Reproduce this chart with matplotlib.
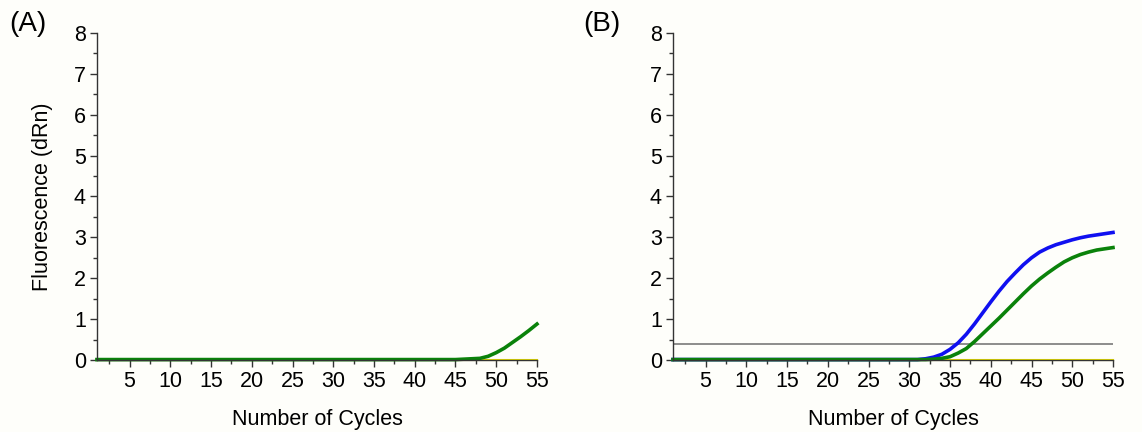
import matplotlib
matplotlib.use("Agg")
import matplotlib.pyplot as plt
from matplotlib.ticker import MultipleLocator

plt.rcParams["font.family"] = ["Liberation Sans", "DejaVu Sans"]

BG = "#fefefa"
AXIS_COLOR = "#333333"

cycles = list(range(1, 56))

# Panel A: only a late green rise, other channels flat
a_green = [0.01] * 45 + [0.02, 0.03, 0.04, 0.09, 0.18, 0.29, 0.43, 0.57, 0.72, 0.88]
a_yellow = [0.005] * 55

# Panel B: blue and green amplification curves
b_blue = [0.01] * 31 + [0.03, 0.07, 0.14, 0.26, 0.42, 0.63, 0.88, 1.15, 1.42, 1.68,
                        1.92, 2.13, 2.33, 2.50, 2.64, 2.74, 2.82, 2.88, 2.94, 2.99,
                        3.03, 3.06, 3.09, 3.12]
b_green = [0.01] * 32 + [0.02, 0.04, 0.08, 0.17, 0.28, 0.45, 0.64, 0.83, 1.02, 1.22,
                         1.42, 1.62, 1.81, 1.98, 2.13, 2.27, 2.40, 2.50, 2.58, 2.64,
                         2.69, 2.72, 2.75]
b_yellow = [0.005] * 55
threshold = 0.4

x_ticks = [5, 10, 15, 20, 25, 30, 35, 40, 45, 50, 55]
y_ticks = [0, 1, 2, 3, 4, 5, 6, 7, 8]


def style_axes(ax):
    ax.set_facecolor(BG)
    ax.set_xlim(1, 55)
    ax.set_ylim(0, 8)
    ax.set_xticks(x_ticks)
    ax.set_yticks(y_ticks)
    ax.xaxis.set_minor_locator(MultipleLocator(2.5))
    ax.yaxis.set_minor_locator(MultipleLocator(0.5))
    for side in ("top", "right"):
        ax.spines[side].set_visible(False)
    for side in ("left", "bottom"):
        ax.spines[side].set_color(AXIS_COLOR)
        ax.spines[side].set_linewidth(1.0)
    ax.tick_params(which="major", direction="out", length=5, width=1.0,
                   color=AXIS_COLOR, labelsize=15.5, pad=3)
    ax.tick_params(which="minor", direction="out", length=3, width=1.0,
                   color=AXIS_COLOR)
    ax.set_xlabel("Number of Cycles", fontsize=15.5, labelpad=12)


fig = plt.figure(figsize=(11.42, 4.32), dpi=100, facecolor=BG)
ax_a = fig.add_axes([0.0849, 0.1667, 0.3853, 0.757])
ax_b = fig.add_axes([0.5893, 0.1667, 0.3853, 0.757])

style_axes(ax_a)
ax_a.plot(cycles, a_yellow, color="#e8e000", linewidth=1.5, clip_on=False)
ax_a.plot(cycles, a_green, color="#0a820a", linewidth=2.6, clip_on=False)
ax_a.set_ylabel("Fluorescence (dRn)", fontsize=15.5, labelpad=15)

style_axes(ax_b)
ax_b.plot(cycles, [threshold] * len(cycles), color="#8c8c8c", linewidth=1.4)
ax_b.plot(cycles, b_yellow, color="#e8e000", linewidth=1.5, clip_on=False)
ax_b.plot(cycles, b_blue, color="#1010f0", linewidth=2.6, clip_on=False)
ax_b.plot(cycles, b_green, color="#0a820a", linewidth=2.6, clip_on=False)

fig.text(0.008, 0.915, "(A)", fontsize=20, ha="left", va="bottom")
fig.text(0.511, 0.915, "(B)", fontsize=20, ha="left", va="bottom")

fig.savefig("out.png", dpi=100, facecolor=BG)
plt.close(fig)
